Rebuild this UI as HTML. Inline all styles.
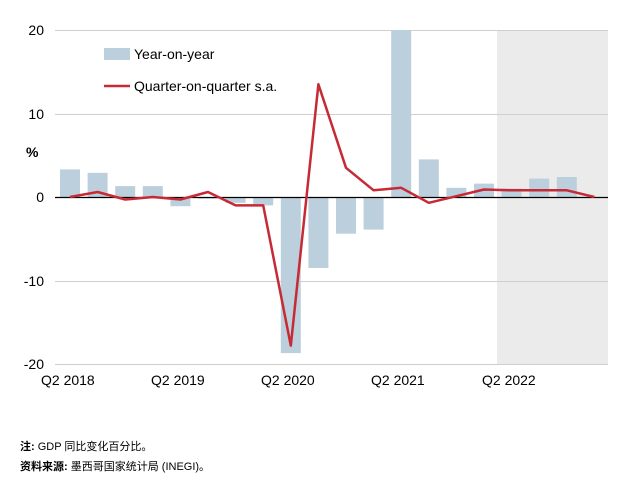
<!DOCTYPE html>
<html><head><meta charset="utf-8"><style>
body{margin:0;background:#fff;width:620px;height:480px;overflow:hidden;font-family:"Liberation Sans","Noto Sans CJK SC",sans-serif}
</style></head><body>
<svg width="620" height="480" xmlns="http://www.w3.org/2000/svg" font-family="Liberation Sans, Noto Sans CJK SC, sans-serif">
<rect x="497" y="30" width="111" height="334" fill="#ebebeb"/>
<g stroke="#cfcfcf" stroke-width="1">
<line x1="55" y1="30.5" x2="608" y2="30.5"/>
<line x1="55" y1="114.5" x2="608" y2="114.5"/>
<line x1="55" y1="281.5" x2="608" y2="281.5"/>
<line x1="55" y1="364.5" x2="608" y2="364.5"/>
</g>
<g fill="#bccfdd">
<rect x="60" y="169.4" width="20" height="27.6"/>
<rect x="87.6" y="172.8" width="20" height="24.2"/>
<rect x="115.2" y="186.1" width="20" height="10.9"/>
<rect x="142.8" y="186.1" width="20" height="10.9"/>
<rect x="170.4" y="197" width="20" height="9.2"/>
<rect x="198" y="197" width="20" height="1.7"/>
<rect x="225.6" y="197" width="20" height="5.8"/>
<rect x="253.2" y="197" width="20" height="8.4"/>
<rect x="280.8" y="197" width="20" height="156.1"/>
<rect x="308.4" y="197" width="20" height="71"/>
<rect x="336" y="197" width="20" height="36.7"/>
<rect x="363.6" y="197" width="20" height="32.6"/>
<rect x="391.2" y="30" width="20" height="167"/>
<rect x="418.8" y="159.4" width="20" height="37.6"/>
<rect x="446.4" y="187.8" width="20" height="9.2"/>
<rect x="474" y="183.6" width="20" height="13.4"/>
<rect x="501.6" y="188.6" width="20" height="8.4"/>
<rect x="529.2" y="178.6" width="20" height="18.4"/>
<rect x="556.8" y="177" width="20" height="20"/>
</g>
<line x1="55" y1="197.5" x2="608" y2="197.5" stroke="#000" stroke-width="1.2"/>
<polyline fill="none" stroke="#c62a35" stroke-width="2.5" stroke-linejoin="round" points="70,197 97.6,192 125.2,199.5 152.8,197 180.4,199.5 208,192 235.6,205.4 263.2,205.4 290.8,345.6 318.4,84.3 346,167.8 373.6,190.3 401.2,187.8 428.8,202.8 456.4,196.2 484,189.5 511.6,190.3 539.2,190.3 566.8,190.3 594.4,197"/>
<g font-size="14" fill="#000" text-anchor="end">
<text x="44" y="35">20</text>
<text x="44" y="119">10</text>
<text x="44" y="202">0</text>
<text x="44" y="286">-10</text>
<text x="44" y="369">-20</text>
</g>
<text x="26" y="157" font-size="14" font-weight="bold">%</text>
<g font-size="14" fill="#000">
<text x="41" y="385">Q2 2018</text>
<text x="151" y="385">Q2 2019</text>
<text x="261" y="385">Q2 2020</text>
<text x="371" y="385">Q2 2021</text>
<text x="482" y="385">Q2 2022</text>
</g>
<rect x="104" y="48" width="26" height="12" fill="#bccfdd"/>
<text x="134" y="59" font-size="14">Year-on-year</text>
<line x1="104" y1="86" x2="130" y2="86" stroke="#c62a35" stroke-width="2.5"/>
<text x="134" y="91" font-size="14">Quarter-on-quarter s.a.</text>
<text x="20" y="450" font-size="11"><tspan font-weight="bold">注:</tspan>  GDP 同比变化百分比。</text>
<text x="20" y="470" font-size="11"><tspan font-weight="bold">资料来源:</tspan> 墨西哥国家统计局 (INEGI)。</text>
</svg>
</body></html>
